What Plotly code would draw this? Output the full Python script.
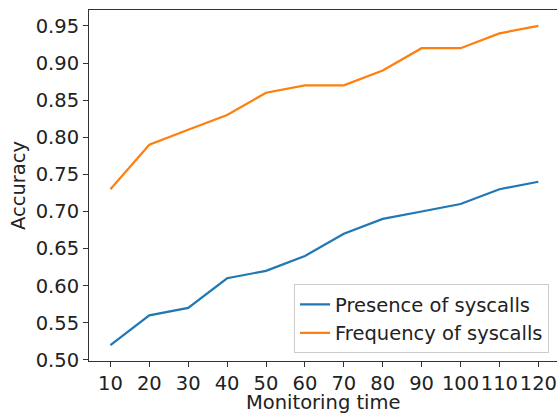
import plotly.graph_objects as go

monitoring_time = [10, 20, 30, 40, 50, 60, 70, 80, 90, 100, 110, 120]
presence = [0.52, 0.56, 0.57, 0.61, 0.62, 0.64, 0.67, 0.69, 0.70, 0.71, 0.73, 0.74]
frequency = [0.73, 0.79, 0.81, 0.83, 0.86, 0.87, 0.87, 0.89, 0.92, 0.92, 0.94, 0.95]
y_ticks = [0.50, 0.55, 0.60, 0.65, 0.70, 0.75, 0.80, 0.85, 0.90, 0.95]

fig = go.Figure()
fig.add_trace(go.Scatter(x=monitoring_time, y=presence, mode="lines",
                         name="Presence of syscalls", line=dict(color="#1f77b4", width=2.2)))
fig.add_trace(go.Scatter(x=monitoring_time, y=frequency, mode="lines",
                         name="Frequency of syscalls", line=dict(color="#ff7f0e", width=2.2)))

font = dict(family="DejaVu Sans", size=19.5, color="#222222")
fig.update_layout(
    width=557, height=415,
    margin=dict(l=89, r=0, t=10, b=54),
    plot_bgcolor="white", paper_bgcolor="white",
    font=font,
    showlegend=True,
    legend=dict(x=0.983, y=0.022, xanchor="right", yanchor="bottom",
                bordercolor="#cccccc", borderwidth=1, bgcolor="rgba(255,255,255,0.8)",
                font=font, tracegroupgap=0),
)
fig.add_annotation(text="Monitoring time", xref="paper", yref="paper", x=0.5, y=0,
                   xanchor="center", yanchor="top", yshift=-28, showarrow=False, font=font)
fig.update_xaxes(
    range=[4.5, 124.8], tickvals=monitoring_time, ticktext=[str(v) for v in monitoring_time],
    tickangle=0, automargin=False,
    showgrid=False, zeroline=False, showline=True, linecolor="#333333", linewidth=1,
    mirror=True, ticks="outside", ticklen=5, tickcolor="#333333",
)
fig.update_yaxes(
    range=[0.4985, 0.9715], tickvals=y_ticks, ticktext=[f"{v:.2f}" for v in y_ticks],
    automargin=False,
    showgrid=False, zeroline=False, showline=True, linecolor="#333333", linewidth=1,
    ticks="outside", ticklen=5, tickcolor="#333333",
    title=dict(text="Accuracy", standoff=4, font=font),
)
fig.write_html("out.html", config={"displayModeBar": False},
               post_script="document.body.style.margin='0px';document.body.style.overflow='hidden';")
